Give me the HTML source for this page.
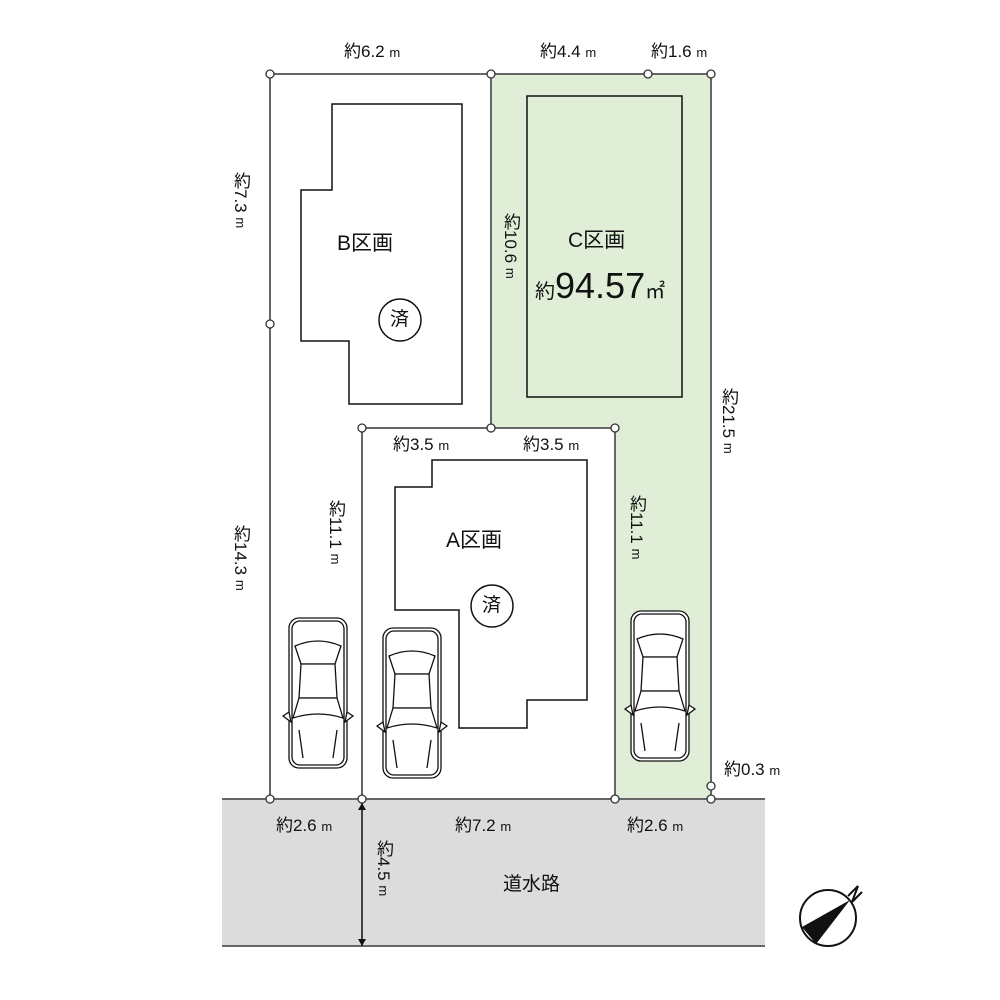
<!DOCTYPE html>
<html><head><meta charset="utf-8"><style>
html,body{margin:0;padding:0;background:#fff}
#w{position:relative;width:1000px;height:1000px;font-family:"Liberation Sans","Noto Sans CJK JP",sans-serif;color:#111}
.t{position:absolute;font-size:17px;white-space:nowrap;line-height:1}
.v{position:absolute;font-size:17px;writing-mode:vertical-rl;white-space:nowrap;line-height:1}
.s{font-size:13px}
</style></head><body><div id="w">
<svg width="1000" height="1000" style="position:absolute;left:0;top:0">
<rect x="222" y="799" width="543" height="147" fill="#dcdcdc"/>
<polygon points="491,74 711,74 711,799 615,799 615,428 491,428" fill="#e0eed8"/>
<g fill="none" stroke="#666" stroke-width="2">
<polyline points="491,428 491,74 270,74 270,799 222,799 765,799"/>
<polyline points="491,74 711,74 711,799"/>
<polyline points="362,799 362,428 615,428 615,799"/>
</g>
<line x1="222" y1="946" x2="765" y2="946" stroke="#666" stroke-width="2"/>
<g fill="none" stroke="#111" stroke-width="1.5">
<polygon points="332,104 462,104 462,404 349,404 349,341 301,341 301,190 332,190"/>
<rect x="527" y="96" width="155" height="301"/>
<polygon points="432,460 587,460 587,700 527,700 527,728 459,728 459,610 395,610 395,487 432,487"/>
<circle cx="400" cy="320" r="21"/>
<circle cx="492" cy="606" r="21"/>
</g>
<g fill="#fff" stroke="#333" stroke-width="1.3">
<circle cx="270" cy="74" r="4"/><circle cx="491" cy="74" r="4"/><circle cx="648" cy="74" r="4"/><circle cx="711" cy="74" r="4"/>
<circle cx="270" cy="324" r="4"/><circle cx="491" cy="428" r="4"/><circle cx="362" cy="428" r="4"/><circle cx="615" cy="428" r="4"/>
<circle cx="270" cy="799" r="4"/><circle cx="362" cy="799" r="4"/><circle cx="615" cy="799" r="4"/><circle cx="711" cy="786" r="4"/><circle cx="711" cy="799" r="4"/>
</g>
<line x1="362" y1="803" x2="362" y2="946" stroke="#111" stroke-width="1.5"/>
<polygon points="358,810 366,810 362,803" fill="#111"/>
<polygon points="358,939 366,939 362,946" fill="#111"/>
<defs><g id="car" fill="#fff" stroke="#111" stroke-width="1.3">
<rect x="0" y="0" width="58" height="150" rx="10"/>
<rect x="3" y="3" width="52" height="144" rx="8"/>
<path d="M6,28 Q29,18 52,28 L46,46 L12,46 Z"/>
<path d="M12,46 L46,46 L48,80 L10,80 Z"/>
<path d="M10,80 L48,80 L54,100 Q29,92 4,100 Z"/>
<path d="M10,112 L14,140 M48,112 L44,140"/>
<path d="M0,94 L-6,98 L2,104 Z M58,94 L64,98 L56,104 Z"/>
</g></defs>
<use href="#car" x="289" y="618"/>
<use href="#car" x="383" y="628"/>
<use href="#car" x="631" y="611"/>
<circle cx="828" cy="918" r="28" fill="#fff" stroke="#111" stroke-width="2"/>
<polygon points="802,927 850,900 816,944" fill="#111"/>
<polyline points="848,896 858,886 852,902 862,892" fill="none" stroke="#111" stroke-width="2"/>
</svg>
<div class="t" style="left:344px;top:43px">約6.2 <span class="s">m</span></div>
<div class="t" style="left:540px;top:43px">約4.4 <span class="s">m</span></div>
<div class="t" style="left:651px;top:43px">約1.6 <span class="s">m</span></div>
<div class="t" style="left:393px;top:436px">約3.5 <span class="s">m</span></div>
<div class="t" style="left:523px;top:436px">約3.5 <span class="s">m</span></div>
<div class="t" style="left:724px;top:761px">約0.3 <span class="s">m</span></div>
<div class="t" style="left:276px;top:817px">約2.6 <span class="s">m</span></div>
<div class="t" style="left:455px;top:817px">約7.2 <span class="s">m</span></div>
<div class="t" style="left:627px;top:817px">約2.6 <span class="s">m</span></div>
<div class="t" style="left:503px;top:875px;font-size:19px">道水路</div>
<div class="t" style="left:337px;top:233px;font-size:21px">B区画</div>
<div class="t" style="left:568px;top:230px;font-size:21px">C区画</div>
<div class="t" style="left:535px;top:268px;font-size:20px">約<span style="font-size:36px">94.57</span>㎡</div>
<div class="t" style="left:446px;top:530px;font-size:21px">A区画</div>
<div class="t" style="left:390px;top:310px;font-size:19px">済</div>
<div class="t" style="left:482px;top:596px;font-size:19px">済</div>
<div class="v" style="left:232px;top:172px">約7.3 <span class="s">m</span></div>
<div class="v" style="left:232px;top:525px">約14.3 <span class="s">m</span></div>
<div class="v" style="left:327px;top:500px">約11.1 <span class="s">m</span></div>
<div class="v" style="left:502px;top:213px">約10.6 <span class="s">m</span></div>
<div class="v" style="left:628px;top:495px">約11.1 <span class="s">m</span></div>
<div class="v" style="left:720px;top:388px">約21.5 <span class="s">m</span></div>
<div class="v" style="left:375px;top:840px">約4.5 <span class="s">m</span></div>
</div></body></html>
